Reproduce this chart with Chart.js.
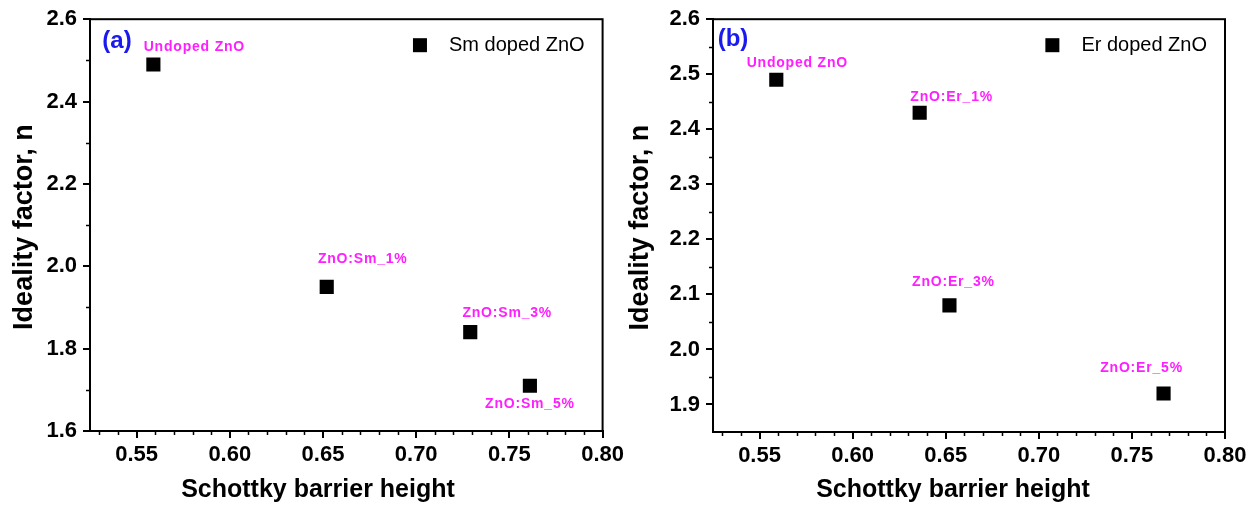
<!DOCTYPE html>
<html>
<head>
<meta charset="utf-8">
<script src="https://cdn.jsdelivr.net/npm/chart.js@4.4.1/dist/chart.umd.min.js"></script>
<style>
  html, body { margin: 0; padding: 0; background: #fff; }
  #wrap { position: relative; width: 1257px; height: 505px; }
  canvas { position: absolute; top: 0; }
  #chartA { left: 0; }
  #chartB { left: 628px; }
</style>
</head>
<body>
<div id="wrap">
  <canvas id="chartA" width="628" height="505"></canvas>
  <canvas id="chartB" width="629" height="505"></canvas>
</div>
<script>
// --- Data ---
const xTicks = [0.55, 0.60, 0.65, 0.70, 0.75, 0.80];
const yTicksSm = [1.6, 1.8, 2.0, 2.2, 2.4, 2.6];
const yTicksEr = [1.9, 2.0, 2.1, 2.2, 2.3, 2.4, 2.5, 2.6];

const smLabels = ["Undoped ZnO", "ZnO:Sm_1%", "ZnO:Sm_3%", "ZnO:Sm_5%"];
const smBarrier = [0.559, 0.652, 0.729, 0.761];
const smIdeality = [2.49, 1.95, 1.84, 1.71];

const erLabels = ["Undoped ZnO", "ZnO:Er_1%", "ZnO:Er_3%", "ZnO:Er_5%"];
const erBarrier = [0.559, 0.636, 0.652, 0.767];
const erIdeality = [2.49, 2.43, 2.08, 1.92];

// label placement relative to each marker (px)
const smLabelOffsets = [[41, -17], [36, -28], [37, -19], [0, 18]];
const erLabelOffsets = [[21, -17], [32, -16], [4, -23], [-22, -25]];

const FONT = "'Liberation Sans', Arial, sans-serif";
const MAGENTA = "#ff1eff";

// --- Helpers ---
function xMinorTicks() {
  const out = [];
  for (let i = 53; i <= 79; i++) if (i % 5) out.push(i / 100);
  return out;
}
function midpoints(ticks) {
  const out = [];
  for (let i = 1; i < ticks.length; i++) out.push((ticks[i - 1] + ticks[i]) / 2);
  return out;
}

// frame, minor ticks, titles, legend and point labels
const decor = {
  id: "decor",
  afterDraw(chart, args, o) {
    const { ctx, chartArea: a, scales: { x, y } } = chart;
    ctx.save();
    ctx.strokeStyle = "#000";
    ctx.lineWidth = 2;
    ctx.strokeRect(a.left, a.top, a.right - a.left, a.bottom - a.top);

    ctx.lineWidth = 1.5;
    ctx.beginPath();
    o.xMinor.forEach(v => {
      const px = Math.round(x.getPixelForValue(v)) + 0.5;
      ctx.moveTo(px, a.bottom); ctx.lineTo(px, a.bottom + 4);
    });
    o.yMinor.forEach(v => {
      const py = Math.round(y.getPixelForValue(v)) + 0.5;
      ctx.moveTo(a.left, py); ctx.lineTo(a.left - 4, py);
    });
    ctx.stroke();

    // axis titles
    ctx.fillStyle = "#000";
    ctx.textAlign = "center";
    ctx.textBaseline = "middle";
    ctx.font = `bold 25px ${FONT}`;
    ctx.fillText(o.xTitle, o.xTitleX, o.xTitleY);
    ctx.save();
    ctx.translate(o.yTitleX, (a.top + a.bottom) / 2 + 2);
    ctx.rotate(-Math.PI / 2);
    ctx.font = `bold 27px ${FONT}`;
    ctx.fillText(o.yTitle, 0, 0);
    ctx.restore();

    // panel tag
    ctx.fillStyle = "#1a1aee";
    ctx.font = `bold 24px ${FONT}`;
    ctx.fillText(o.tag, a.left + o.tagPos[0], a.top + o.tagPos[1]);

    // legend
    const ds = chart.data.datasets[0];
    ctx.font = `20px ${FONT}`;
    ctx.fillStyle = "#000";
    ctx.textAlign = "right";
    const lx = a.right - 18, ly = a.top + 26;
    ctx.fillText(ds.label, lx, ly);
    const sx = lx - ctx.measureText(ds.label).width - 29;
    ctx.fillStyle = ds.backgroundColor;
    ctx.fillRect(sx - 7, ly - 7, 14, 14);

    // point labels
    ctx.fillStyle = MAGENTA;
    ctx.font = `bold 14px ${FONT}`;
    ctx.letterSpacing = "0.8px";
    ctx.textAlign = "center";
    ds.data.forEach((p, i) => {
      const [dx, dy] = o.offsets[i];
      ctx.fillText(o.labels[i], x.getPixelForValue(p.x) + dx, y.getPixelForValue(p.y) + dy);
    });
    ctx.restore();
  }
};

function makePanel(id, p) {
  const tickFont = { family: FONT, size: 22, weight: "bold" };
  const grid = { drawOnChartArea: false, drawTicks: true, tickLength: 7, color: "#000", lineWidth: 2 };
  return new Chart(document.getElementById(id), {
    type: "scatter",
    data: {
      datasets: [{
        label: p.name,
        data: p.xs.map((v, i) => ({ x: v, y: p.ys[i] })),
        pointStyle: "rect",
        pointRadius: 10,
        pointHoverRadius: 10,
        borderWidth: 0,
        backgroundColor: "#000",
        showLine: false
      }]
    },
    options: {
      responsive: false,
      animation: false,
      events: [],
      layout: { padding: { top: p.top, right: p.right, left: 0, bottom: 0 } },
      plugins: {
        legend: { display: false },
        tooltip: { enabled: false },
        decor: {
          xMinor: xMinorTicks(),
          yMinor: midpoints(p.yTicks),
          xTitle: "Schottky barrier height",
          yTitle: "Ideality factor, n",
          xTitleX: p.xTitleX, xTitleY: 490,
          yTitleX: p.yTitleX,
          tag: p.tag, tagPos: p.tagPos,
          labels: p.labels, offsets: p.offsets
        }
      },
      scales: {
        x: {
          type: "linear",
          min: 0.525, max: 0.80,
          afterBuildTicks: s => { s.ticks = xTicks.map(v => ({ value: v })); },
          afterFit: s => { s.height = p.xAxisH; },
          ticks: { color: "#000", font: tickFont, padding: 4, autoSkip: false, maxRotation: 0,
                   callback: v => v.toFixed(2) },
          grid,
          border: { color: "#000", width: 2 }
        },
        y: {
          type: "linear",
          min: p.yMin, max: p.yMax,
          afterBuildTicks: s => { s.ticks = p.yTicks.map(v => ({ value: v })); },
          afterFit: s => { s.width = p.yAxisW; },
          ticks: { color: "#000", font: tickFont, padding: 6, autoSkip: false,
                   callback: v => v.toFixed(1) },
          grid,
          border: { color: "#000", width: 2 }
        }
      }
    },
    plugins: [decor]
  });
}

makePanel("chartA", {
  name: "Sm doped ZnO", tag: "(a)",
  xs: smBarrier, ys: smIdeality, labels: smLabels, offsets: smLabelOffsets,
  yTicks: yTicksSm, yMin: 1.6, yMax: 2.6,
  top: 17, right: 25, yAxisW: 90, xAxisH: 74,
  xTitleX: 318, yTitleX: 25, tagPos: [27, 22]
});

makePanel("chartB", {
  name: "Er doped ZnO", tag: "(b)",
  xs: erBarrier, ys: erIdeality, labels: erLabels, offsets: erLabelOffsets,
  yTicks: yTicksEr, yMin: 1.85, yMax: 2.6,
  top: 19, right: 32, yAxisW: 85, xAxisH: 73,
  xTitleX: 325, yTitleX: 13, tagPos: [20, 20]
});
</script>
</body>
</html>
